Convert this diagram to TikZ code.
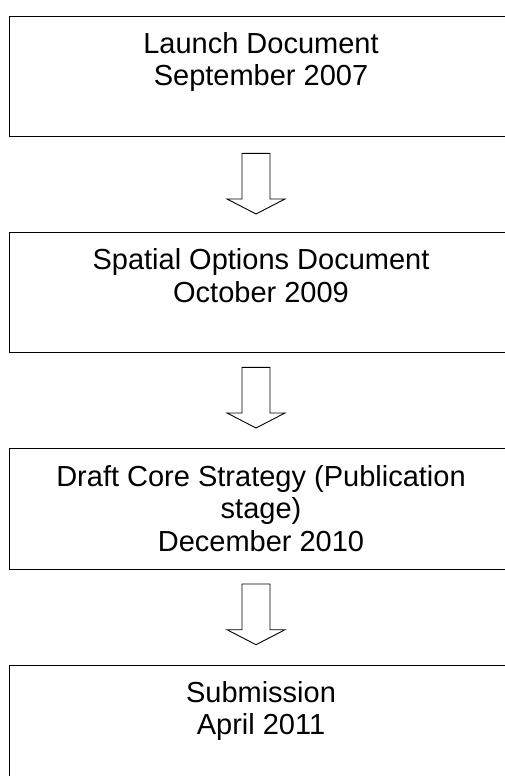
\documentclass[tikz,border=0pt]{standalone}
\usepackage{fontspec}
\setmainfont{Liberation Sans}
\tikzset{
  stagebox/.style={draw=black, line width=1.3pt},
  stagetext/.style={font=\fontsize{29}{32.6}\selectfont, align=center, inner sep=0pt, anchor=base},
  blockarrow/.style={draw=black, line width=0.9pt, line join=miter, fill=white}
}
\newcommand\downblockarrow[1]{%
  \draw[blockarrow] (#1) ++(-14,0) -- ++(0,45.7) -- ++(-15,0) -- ++(29,15) -- ++(29,-15) -- ++(-15,0) -- ++(0,-45.7) -- cycle;}
\begin{document}
\begin{tikzpicture}[x=1pt,y=-1pt]
\useasboundingbox (0,0) rectangle (505,776);
\clip (0,0) rectangle (505,776);
\node[stagebox, anchor=north west, minimum width=505, minimum height=120, inner sep=0] (b1) at (8.5,15.7) {};
\node[stagebox, anchor=north west, minimum width=505, minimum height=120, inner sep=0] (b2) at (8.5,232) {};
\node[stagebox, anchor=north west, minimum width=505, minimum height=121, inner sep=0] (b3) at (8.5,448) {};
\node[stagebox, anchor=north west, minimum width=505, minimum height=140, inner sep=0] (b4) at (8.5,664.5) {};
\node[stagetext] (t1) at (261,85.9) {Launch Document\\September 2007};
\node[stagetext] (t2) at (261,302.2) {Spatial Options Document\\October 2009};
\node[stagetext] (t3) at (261,551.5) {Draft Core Strategy (Publication\\stage)\\December 2010};
\node[stagetext] (t4) at (261,734.9) {Submission\\April 2011};
\coordinate (a1) at (256,153.3);
\coordinate (a2) at (256,367.3);
\coordinate (a3) at (256,584);
\downblockarrow{a1}
\downblockarrow{a2}
\downblockarrow{a3}
\end{tikzpicture}
\end{document}
